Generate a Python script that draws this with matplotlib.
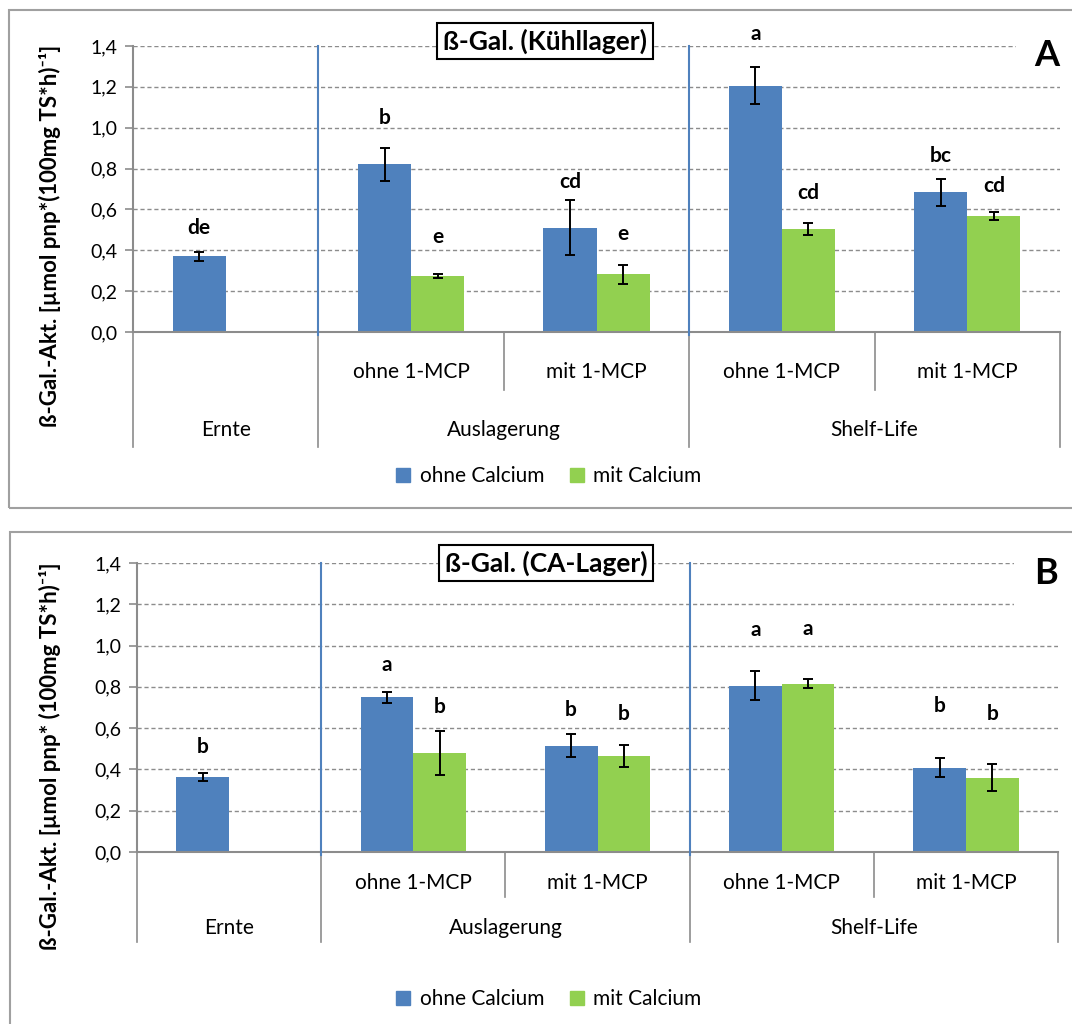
import numpy as np
import matplotlib
matplotlib.use("Agg")
import matplotlib.pyplot as plt
from matplotlib.patches import Patch, Rectangle

plt.rcParams['font.family'] = ['Lato', 'DejaVu Sans']

BLUE = '#4F81BD'
GREEN = '#92D050'
GRAY = '#8C8C8C'
W, H = 1072, 1024

# categories
groups = ["Ernte", "Auslagerung", "Shelf-Life"]
group_pos = [0.5, 2.0, 4.0]
sub_labels = ["", "ohne 1-MCP", "mit 1-MCP", "ohne 1-MCP", "mit 1-MCP"]
series_names = ["ohne Calcium", "mit Calcium"]

# panel A (Kühllager)
a_ohne = [0.37, 0.82, 0.51, 1.205, 0.685]
a_ohne_err = [0.022, 0.08, 0.134, 0.09, 0.066]
a_mit = [np.nan, 0.274, 0.282, 0.503, 0.568]
a_mit_err = [np.nan, 0.012, 0.048, 0.03, 0.018]
a_let_ohne = ["de", "b", "cd", "a", "bc"]
a_let_ohne_y = [0.480, 1.017, 0.703, 1.429, 0.834]
a_let_mit = ["", "e", "e", "cd", "cd"]
a_let_mit_y = [np.nan, 0.436, 0.450, 0.650, 0.684]

# panel B (CA-Lager)
b_ohne = [0.364, 0.749, 0.515, 0.806, 0.408]
b_ohne_err = [0.02, 0.027, 0.055, 0.071, 0.047]
b_mit = [np.nan, 0.479, 0.466, 0.816, 0.359]
b_mit_err = [np.nan, 0.107, 0.053, 0.02, 0.065]
b_let_ohne = ["b", "a", "b", "a", "b"]
b_let_ohne_y = [0.481, 0.877, 0.660, 1.047, 0.680]
b_let_mit = ["", "b", "b", "a", "b"]
b_let_mit_y = [np.nan, 0.672, 0.639, 1.052, 0.639]

yticks = [0.0, 0.2, 0.4, 0.6, 0.8, 1.0, 1.2, 1.4]

fig = plt.figure(figsize=(W / 100, H / 100), dpi=100)


def add_px_axes(left, top, right, bottom):
    return fig.add_axes([left / W, 1 - bottom / H, (right - left) / W, (bottom - top) / H])


def frame(left, top, right, bottom):
    fig.add_artist(Rectangle((left / W, 1 - bottom / H), (right - left) / W, (bottom - top) / H,
                             transform=fig.transFigure, fill=False, ec='#A0A0A0', lw=1.5))


def panel(box, ohne, ohne_err, mit, mit_err, let_o, let_o_y, let_m, let_m_y,
          title, title_xy, tag, tag_xy, ylabel, ylabel_xy, cover_y, sub_y, main_y, tick_sub, tick_main, legend_y):
    ax = add_px_axes(*box)
    x = np.arange(5) + 0.5
    bw = 0.286
    ax.bar(x - bw / 2, ohne, bw, color=BLUE, lw=0, zorder=2)
    ax.bar(x + bw / 2, mit, bw, color=GREEN, lw=0, zorder=2)
    ax.errorbar(x - bw / 2, ohne, yerr=ohne_err, fmt='none', ecolor='black', elinewidth=1.4,
                capsize=3.6, capthick=1.4, zorder=3)
    ax.errorbar(x + bw / 2, mit, yerr=mit_err, fmt='none', ecolor='black', elinewidth=1.4,
                capsize=3.6, capthick=1.4, zorder=3)
    for i in range(5):
        ax.text(x[i] - bw / 2, let_o_y[i], let_o[i], ha='center', va='baseline',
                fontsize=15, fontweight='bold', zorder=4)
        if let_m[i]:
            ax.text(x[i] + bw / 2, let_m_y[i], let_m[i], ha='center', va='baseline',
                    fontsize=15, fontweight='bold', zorder=4)

    ax.set_xlim(0, 5)
    ax.set_ylim(0, 1.4)
    ax.set_yticks(yticks)
    ax.set_yticklabels([f"{v:.1f}".replace('.', ',') for v in yticks], fontsize=14)
    ax.set_xticks([])
    ax.tick_params(axis='y', length=6, color=GRAY, width=1.2, pad=5)
    ax.set_axisbelow(True)
    ax.yaxis.grid(True, ls=(0, (3, 2)), color=GRAY, lw=1)
    for s in ['top', 'right']:
        ax.spines[s].set_visible(False)
    for s in ['left', 'bottom']:
        ax.spines[s].set_color(GRAY)
        ax.spines[s].set_linewidth(1.5)

    # white box behind panel tag hides grid ends
    ax.add_patch(Rectangle((4.76, cover_y), 0.3, 1.5 - cover_y, fc='white', ec='none',
                           zorder=1.5, clip_on=False))

    # blue separators between stages
    for sx in [1, 3]:
        ax.plot([sx, sx], [1.4, -0.015], color=BLUE, lw=1.5, clip_on=False, zorder=3)

    # multi-level category axis
    tr = ax.get_xaxis_transform()
    for sx in [0, 1, 3, 5]:
        ax.plot([sx, sx], [0, tick_main], color=GRAY, lw=1.2, transform=tr, clip_on=False)
    for sx in [2, 4]:
        ax.plot([sx, sx], [0, tick_sub], color=GRAY, lw=1.2, transform=tr, clip_on=False)
    for i, lab in enumerate(sub_labels):
        ax.text(x[i], sub_y, lab, ha='center', va='center', fontsize=15, transform=tr)
    for gx, g in zip(group_pos, groups):
        ax.text(gx, main_y, g, ha='center', va='center', fontsize=15, transform=tr)

    fig.text(title_xy[0] / W, 1 - title_xy[1] / H, title, ha='center', va='center',
             fontsize=19, fontweight='bold',
             bbox=dict(boxstyle='square,pad=0.22', fc='white', ec='black', lw=1.5))
    fig.text(tag_xy[0] / W, 1 - tag_xy[1] / H, tag, ha='center', va='center',
             fontsize=26, fontweight='bold')
    fig.text(ylabel_xy[0] / W, 1 - ylabel_xy[1] / H, ylabel, ha='center', va='center',
             rotation=90, fontsize=16, fontweight='bold')

    handles = [Patch(color=BLUE), Patch(color=GREEN)]
    ax.legend(handles, series_names, loc='center', bbox_to_anchor=(549 / W, 1 - legend_y / H),
              bbox_transform=fig.transFigure, ncol=2, frameon=False, fontsize=15,
              handlelength=0.67, handleheight=0.67, handletextpad=0.45, columnspacing=1.25)
    return ax


frame(9, 10, 1090, 508)
frame(10, 532, 1090, 1040)

panel((133, 46, 1060, 332), a_ohne, a_ohne_err, a_mit, a_mit_err,
      a_let_ohne, a_let_ohne_y, a_let_mit, a_let_mit_y,
      "ß-Gal. (Kühllager)", (545, 41), "A", (1047, 56),
      "ß-Gal.-Akt. [µmol pnp*(100mg TS*h)⁻¹]", (50, 236), 1.3,
      (332 - 372) / 286, (332 - 430) / 286, (332 - 390) / 286, (332 - 447) / 286, 476)

panel((137, 563, 1058, 852), b_ohne, b_ohne_err, b_mit, b_mit_err,
      b_let_ohne, b_let_ohne_y, b_let_mit, b_let_mit_y,
      "ß-Gal. (CA-Lager)", (546, 563), "B", (1046, 574),
      "ß-Gal.-Akt. [µmol pnp* (100mg TS*h)⁻¹]", (50, 756), 1.1,
      (852 - 883) / 289, (852 - 928) / 289, (852 - 897) / 289, (852 - 942) / 289, 999)

fig.savefig("out.png", dpi=100)
